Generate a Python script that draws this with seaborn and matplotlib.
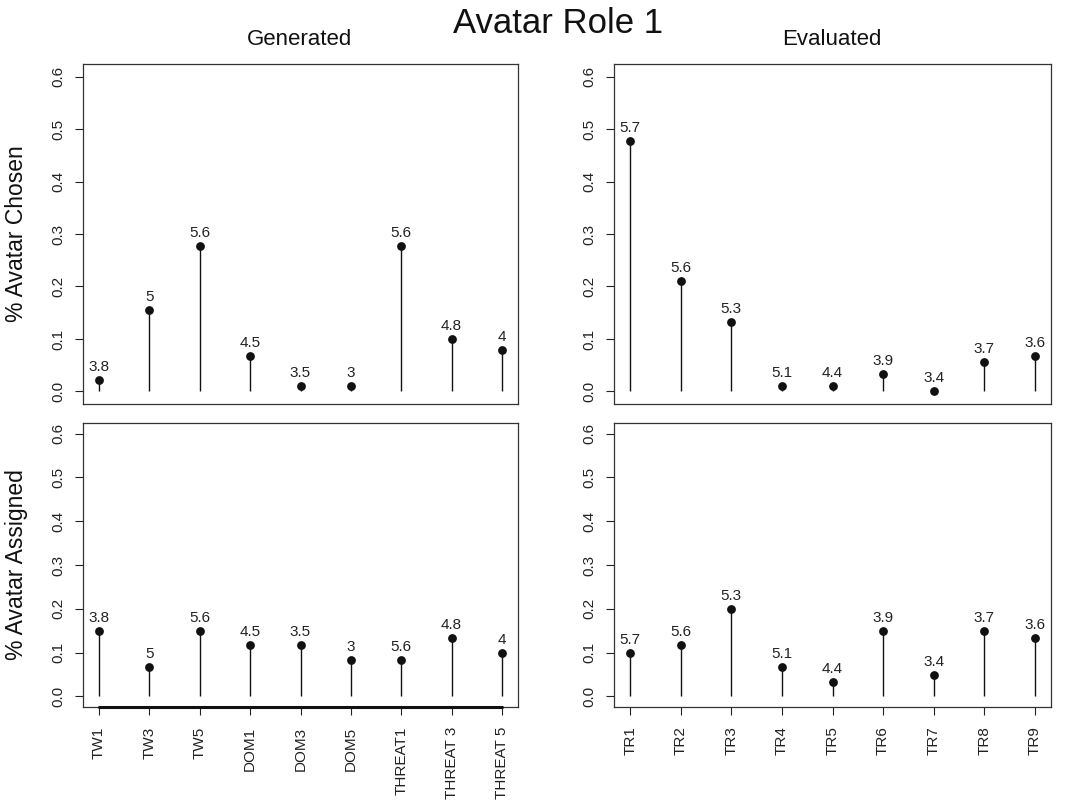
import matplotlib
matplotlib.use("Agg")
import matplotlib.pyplot as plt
import seaborn as sns
import pandas as pd
import numpy as np

# ---- data ----
gen_labels = ["TW1", "TW3", "TW5", "DOM1", "DOM3", "DOM5", "THREAT1", "THREAT 3", "THREAT 5"]
eval_labels = ["TR1", "TR2", "TR3", "TR4", "TR5", "TR6", "TR7", "TR8", "TR9"]

gen_chosen = [0.022, 0.156, 0.278, 0.067, 0.011, 0.011, 0.278, 0.100, 0.078]
eval_chosen = [0.478, 0.211, 0.133, 0.011, 0.011, 0.033, 0.000, 0.056, 0.067]
gen_assigned = [0.150, 0.067, 0.150, 0.117, 0.117, 0.083, 0.083, 0.133, 0.100]
eval_assigned = [0.100, 0.117, 0.200, 0.067, 0.033, 0.150, 0.050, 0.150, 0.133]

gen_scores = ["3.8", "5", "5.6", "4.5", "3.5", "3", "5.6", "4.8", "4"]
eval_scores = ["5.7", "5.6", "5.3", "5.1", "4.4", "3.9", "3.4", "3.7", "3.6"]

yticks = [0.0, 0.1, 0.2, 0.3, 0.4, 0.5, 0.6]
ytick_labels = ["0.0", "0.1", "0.2", "0.3", "0.4", "0.5", "0.6"]

sns.set_style("white")
plt.rcParams["font.family"] = ["Liberation Sans", "DejaVu Sans"]
plt.rcParams["axes.edgecolor"] = "#333333"
plt.rcParams["axes.linewidth"] = 0.9

W, H = 1068, 801
fig = plt.figure(figsize=(W / 100, H / 100), dpi=100)

def fx(px):
    return px / W

def fy(py):
    return 1 - py / H

boxes = {
    "tl": (83, 518, 64, 404),
    "tr": (614, 1051, 64, 404),
    "bl": (83, 518, 423, 707),
    "br": (614, 1051, 423, 707),
}

panels = [
    ("tl", gen_labels, gen_chosen, gen_scores, False),
    ("tr", eval_labels, eval_chosen, eval_scores, False),
    ("bl", gen_labels, gen_assigned, gen_scores, True),
    ("br", eval_labels, eval_assigned, eval_scores, True),
]

for key, labels, vals, scores, show_x in panels:
    l, r, t, b = boxes[key]
    ax = fig.add_axes([fx(l), fy(b), fx(r) - fx(l), fy(t) - fy(b)])
    df = pd.DataFrame({"item": labels, "value": vals, "score": scores})
    pos = np.arange(len(labels))
    ax.vlines(pos, 0, df["value"], color="#111111", lw=1.0, zorder=2)
    sns.scatterplot(data=df, x="item", y="value", ax=ax, color="#111111",
                    s=40, edgecolor="#111111", linewidth=0, zorder=3, legend=False)
    for i, (v, s) in enumerate(zip(df["value"], df["score"])):
        ax.annotate(s, (i, v), xytext=(0, 6.5), textcoords="offset points",
                    ha="center", va="baseline", fontsize=11, color="#222222")
    n = len(labels)
    ax.set_xlim(-0.32, n - 1 + 0.32)
    ax.set_ylim(-0.024, 0.624)
    ax.set_yticks(yticks)
    ax.set_yticklabels(ytick_labels, rotation=90, va="center")
    ax.tick_params(axis="y", direction="out", length=5.5, width=0.8, pad=7,
                   labelsize=11, left=True, colors="#222222")
    ax.set_xlabel("")
    ax.set_ylabel("")
    if show_x:
        ax.set_xticks(pos)
        ax.set_xticklabels(labels, rotation=90, ha="center", va="top")
        ax.tick_params(axis="x", direction="out", length=6, width=0.8, pad=8,
                       labelsize=11, bottom=True, colors="#222222")
    else:
        ax.set_xticks([])
    for sp in ax.spines.values():
        sp.set_visible(True)
        sp.set_color("#333333")
    if key == "bl":
        ax.plot([0, n - 1], [0, 0], transform=ax.get_xaxis_transform(),
                color="#111111", lw=2.2, clip_on=False, zorder=5)

fig.text(fx(558), fy(33), "Avatar Role 1", ha="center", va="baseline",
         fontsize=25, color="#111111")
fig.text(fx(300), fy(45), "Generated", ha="center", va="baseline",
         fontsize=16, color="#111111")
fig.text(fx(832), fy(45), "Evaluated", ha="center", va="baseline",
         fontsize=16, color="#111111")
fig.text(fx(17), fy(234), "% Avatar Chosen", rotation=90, ha="center",
         va="center", fontsize=16.5, color="#111111")
fig.text(fx(17), fy(565), "% Avatar Assigned", rotation=90, ha="center",
         va="center", fontsize=16.5, color="#111111")

fig.savefig("out.png", dpi=100)
